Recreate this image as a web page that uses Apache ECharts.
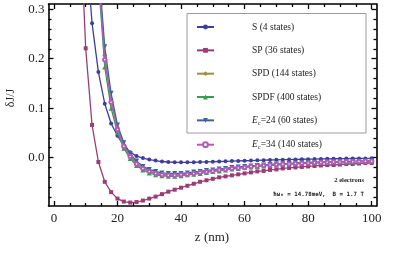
<!DOCTYPE html>
<html><head><meta charset="utf-8">
<script src="https://cdn.jsdelivr.net/npm/echarts@6/dist/echarts.min.js"></script>
<style>html,body{margin:0;padding:0;background:#fff}#c{width:407px;height:254px}</style>
</head><body><div id="c"></div>
<script>
const zGrid = [8,10,12,14,16,18,20,22,24,26,28,30,32,34,36,38,40,42,44,46,48,50,52,54,56,58,60,62,64,66,68,70,72,74,76,78,80,82,84,86,88,90,92,94,96,98,100];
const seriesNames = ['S (4 states)','SP (36 states)','SPD (144 states)','SPDF (400 states)','Ec=24 (60 states)','Ec=34 (140 states)'];
const sVals = [null,0.44,0.272,0.173,0.109,0.069,0.044,0.024,0.011,0.003,-0.001,-0.004,-0.006,-0.008,-0.009,-0.0095,-0.0097,-0.0097,-0.0095,-0.0092,-0.0088,-0.0084,-0.008,-0.0076,-0.0072,-0.0068,-0.0064,-0.006,-0.0056,-0.0052,-0.0049,-0.0046,-0.0043,-0.004,-0.0037,-0.0034,-0.0032,-0.003,-0.0028,-0.0026,-0.0024,-0.0022,-0.002,-0.0019,-0.0018,-0.0017,-0.0016];
const spVals = [0.52,0.221,0.066,-0.009,-0.049,-0.070,-0.083,-0.089,-0.091,-0.090,-0.087,-0.083,-0.079,-0.074,-0.069,-0.065,-0.061,-0.057,-0.053,-0.049,-0.046,-0.043,-0.040,-0.038,-0.036,-0.034,-0.032,-0.030,-0.028,-0.027,-0.025,-0.024,-0.022,-0.021,-0.020,-0.019,-0.018,-0.017,-0.016,-0.015,-0.015,-0.014,-0.013,-0.013,-0.012,-0.011,-0.011];
const spdVals = [null,null,null,0.377,0.207,0.118,0.060,0.026,0.004,-0.011,-0.021,-0.027,-0.031,-0.034,-0.035,-0.035,-0.034,-0.033,-0.031,-0.030,-0.028,-0.026,-0.025,-0.023,-0.022,-0.020,-0.019,-0.018,-0.017,-0.016,-0.015,-0.014,-0.013,-0.0125,-0.012,-0.011,-0.0105,-0.010,-0.0097,-0.0094,-0.0091,-0.0088,-0.0085,-0.0082,-0.0079,-0.0076,-0.0073];
const spdfVals = [null,null,null,0.36,0.183,0.100,0.050,0.019,-0.002,-0.016,-0.025,-0.031,-0.035,-0.037,-0.038,-0.038,-0.037,-0.035,-0.034,-0.032,-0.030,-0.028,-0.027,-0.025,-0.023,-0.022,-0.020,-0.019,-0.018,-0.017,-0.016,-0.015,-0.014,-0.013,-0.0125,-0.012,-0.011,-0.0105,-0.010,-0.0097,-0.0094,-0.0091,-0.0088,-0.0085,-0.0082,-0.0079,-0.0076];
const ec24Vals = [null,null,null,0.39,0.224,0.130,0.066,0.030,0.008,-0.007,-0.018,-0.024,-0.028,-0.031,-0.032,-0.032,-0.032,-0.031,-0.029,-0.028,-0.026,-0.025,-0.023,-0.022,-0.020,-0.019,-0.018,-0.017,-0.016,-0.015,-0.014,-0.013,-0.0125,-0.012,-0.011,-0.0105,-0.010,-0.0095,-0.0092,-0.0089,-0.0086,-0.0083,-0.008,-0.0077,-0.0074,-0.0071,-0.0068];
const ec34Vals = [null,null,null,0.37,0.198,0.112,0.057,0.023,0.002,-0.013,-0.022,-0.028,-0.032,-0.035,-0.036,-0.036,-0.035,-0.034,-0.032,-0.030,-0.029,-0.027,-0.025,-0.024,-0.022,-0.021,-0.020,-0.018,-0.017,-0.016,-0.015,-0.014,-0.0135,-0.013,-0.012,-0.0115,-0.011,-0.0105,-0.010,-0.0096,-0.0092,-0.0089,-0.0086,-0.0083,-0.008,-0.0077,-0.0074];
const xMajor = [0,20,40,60,80,100];
const xMinor = [5,10,15,25,30,35,45,50,55,65,70,75,85,90,95];
const yMajor = [0,0.1,0.2,0.3];
const yMinor = [-0.08,-0.06,-0.04,-0.02,0.02,0.04,0.06,0.08,0.12,0.14,0.16,0.18,0.22,0.24,0.26,0.28];

const allVals = [sVals, spVals, spdVals, spdfVals, ec24Vals, ec34Vals];
const colors = ['#3f3d99','#993d74','#99903d','#3d9951','#3d6299','#b15cb8'];
const symbols = ['circle','rect','diamond','triangle','triangle','emptyCircle'];
const rotations = [0,0,0,0,180,0];
const sizes = [4,4,5,5,5,3.5];

function pairs(vals){ return zGrid.map((z,i)=> vals[i]===null?null:[z,vals[i]]).filter(p=>p); }

const X0=-1.7, X1=101.5, Y0=-0.098, Y1=0.3107;
const serif = 'Liberation Serif';
function xAx(pos, vals, len, labels, line){
  return {type:'value', min:X0, max:X1, position:pos, splitLine:{show:false},
    axisLine:{show:line, onZero:false, lineStyle:{color:'#000', width:1.6}},
    axisTick:{show:true, inside:true, length:len, customValues:vals, lineStyle:{color:'#000', width:1.3}},
    axisLabel:{show:labels, customValues:vals, margin:6, fontFamily:serif, fontSize:13, color:'#222'}};
}
function yAx(pos, vals, len, labels, line){
  return {type:'value', min:Y0, max:Y1, position:pos, splitLine:{show:false},
    axisLine:{show:line, onZero:false, lineStyle:{color:'#000', width:1.6}},
    axisTick:{show:true, inside:true, length:len, customValues:vals, lineStyle:{color:'#000', width:1.3}},
    axisLabel:{show:labels, customValues:vals, margin:4, fontFamily:serif, fontSize:13, color:'#222', formatter:v=>v.toFixed(1)}};
}

const chart = echarts.init(document.getElementById('c'), null, {renderer:'canvas'});
chart.setOption({
  animation:false,
  backgroundColor:'#fff',
  grid:{left:48.5, top:4, width:328, height:202},
  xAxis:[xAx('bottom',xMajor,5,true,true), xAx('bottom',xMinor,3,false,false), xAx('top',xMajor,5,false,true), xAx('top',xMinor,3,false,false)],
  yAxis:[yAx('left',yMajor,5,true,true), yAx('left',yMinor,3,false,false), yAx('right',yMajor,5,false,true), yAx('right',yMinor,3,false,false)],
  legend:{orient:'vertical', left:196, top:22, padding:0, itemWidth:17, itemHeight:6, itemGap:13.34, z:5,
    data:seriesNames,
    textStyle:{fontFamily:serif, fontSize:9.5, color:'#222', padding:[0,0,0,33],
      rich:{i:{fontFamily:serif,fontSize:9.5,fontStyle:'italic',color:'#222'}, s:{fontFamily:serif,fontSize:6.5,color:'#222',padding:[5,0,0,0]}, t:{fontFamily:serif,fontSize:9.5,color:'#222'}}},
    formatter:function(n){ if(n.indexOf('Ec')===0){ return '{i|E}{s|c}{t|'+n.slice(2)+'}'; } return n; }
  },
  graphic:[
    {type:'rect', z:4, shape:{x:187, y:13.5, width:179, height:119.5}, style:{fill:'#fff', stroke:'#9a9a9a', lineWidth:1}},
    {type:'text', x:364, y:180.5, style:{text:'2 electrons', font:'bold 6.5px "Liberation Serif"', fill:'#222', textAlign:'right', textVerticalAlign:'middle'}},
    {type:'text', x:364, y:194, style:{text:'ħω₀ = 14.78meV,  B = 1.7 T', font:'bold 5.8px "DejaVu Sans Mono"', fill:'#222', textAlign:'right', textVerticalAlign:'middle'}},
    {type:'text', x:212, y:238, style:{text:'z (nm)', font:'13px "Liberation Serif"', fill:'#222', textAlign:'center', textVerticalAlign:'middle'}},
    {type:'text', x:10.5, y:98, rotation:Math.PI/2, style:{text:'δJ/J', font:'12px "Liberation Serif"', fill:'#222', textAlign:'center', textVerticalAlign:'middle'}}
  ],
  series: allVals.map((v,k)=>({
    name:seriesNames[k], type:'line', xAxisIndex:0, yAxisIndex:0, data:pairs(v), clip:true,
    symbol:symbols[k], symbolRotate:rotations[k], symbolSize:sizes[k], showSymbol:true,
    color:colors[k], lineStyle:{color:colors[k], width:1.3},
    itemStyle: k===5 ? {color:colors[k], borderColor:colors[k], borderWidth:0.8} : {color:colors[k]},
    z:2+k*0.01
  }))
});
</script></body></html>
